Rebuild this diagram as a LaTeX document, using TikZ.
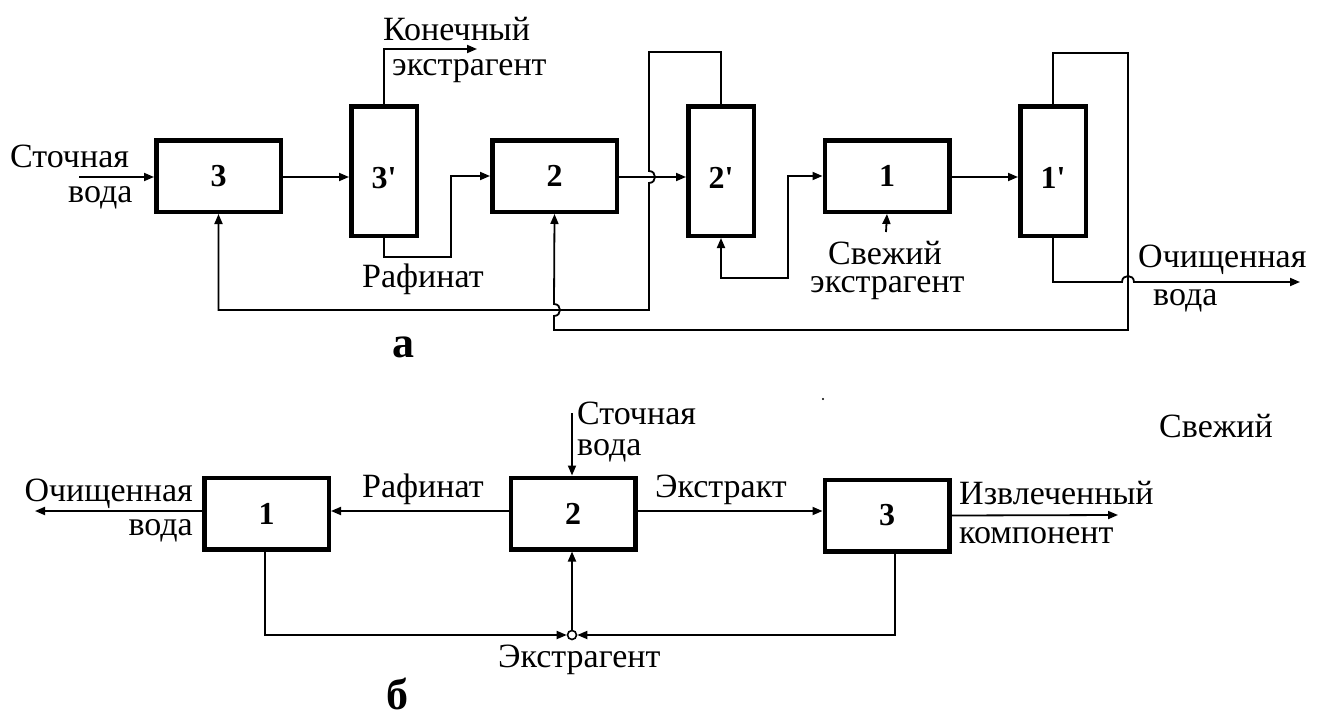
\documentclass[tikz,border=0pt]{standalone}
\usepackage{fontspec}
\setmainfont{Liberation Serif}
\usetikzlibrary{arrows.meta}
\begin{document}
\begin{tikzpicture}[x=1pt,y=-1pt,
  box/.style={draw, line width=4.5pt, minimum width=124.5pt, minimum height=71.5pt, inner sep=0pt, font=\fontsize{32}{36}\selectfont\bfseries},
  col/.style={box, minimum width=65.5pt, minimum height=129.5pt, text height=34pt, text depth=0pt},
  lbl/.style={inner sep=0pt, font=\fontsize{34}{38}\selectfont},
  figlbl/.style={inner sep=0pt, anchor=base, font=\fontsize{44}{48}\selectfont\bfseries},
  wire/.style={line width=1.8pt},
  flow/.style={wire, -{Triangle[length=10pt,width=8pt]}},
  bflow/.style={wire, {Triangle[length=10pt,width=8pt]}-{Triangle[length=10pt,width=8pt]}}
]
\useasboundingbox (0,0) rectangle (1317,717);

% ---------- diagram a ----------
\node[box] (b3) at (218.5,176) {3};
\node[col] (b3p) at (384,171) {3\textquotesingle};
\node[box] (b2) at (554.5,176) {2};
\node[col] (b2p) at (721,171) {2\textquotesingle};
\node[box] (b1) at (887,176) {1};
\node[col] (b1p) at (1053,171) {1\textquotesingle};

\node[lbl, anchor=base west] (t1) at (10,167) {Сточная};
\node[lbl, anchor=base west] (t2) at (68,202) {вода};
\node[lbl, anchor=base west] (t3) at (383,41) {Конечный};
\node[lbl, anchor=base west] (t4) at (392,76) {экстрагент};
\node[lbl, anchor=base west] (t5) at (362,287) {Рафинат};
\node[lbl, anchor=base west] (t6) at (828,264) {Свежий};
\node[lbl, anchor=base west] (t7) at (810,292) {экстрагент};
\node[lbl, anchor=base west] (t8) at (1138,267) {Очищенная};
\node[lbl, anchor=base west] (t9) at (1153,305) {вода};
\node[figlbl] (la) at (403,357) {а};

\coordinate (in3) at (79,177);
\coordinate (kon) at (477,49);
\coordinate (raf) at (451,257);
\coordinate (fr) at (886,232);
\coordinate (ow1) at (1300,282);

\draw[flow] (in3) -- (in3 -| b3.west);
\draw[flow] (b3.east |- 0,177) -- (b3p.west |- 0,177);
\draw[flow] (b3p.north) |- (kon);
\draw[flow] (b3p.south) |- (raf) |- (b2.west);
\draw[flow] (b2.east |- 0,177) -- (b2p.west |- 0,177);
\draw[flow] (b1.east |- 0,177) -- (b1p.west |- 0,177);
\draw[flow] (fr) -- (b1.south);
\draw[bflow] (b2p.south) |- (788,278) |- (b1.west);
% loop from 2' to 3
\draw[flow] (b2p.north) |- (649,52) -- (649,171)
   .. controls (657,171) and (657,183) .. (649,183)
   -- (649,310) -| (b3.south);
% loop from 1' to 2
\draw[flow] (b1p.north) |- (1128,53) -- (1128,330) -| (554,316)
   .. controls (562,316) and (562,304) .. (554,304) -- (b2.south);
% purified water out
\draw[flow] (b1p.south) |- (1122,282)
   .. controls (1122,274) and (1134,274) .. (1134,282) -- (ow1);

% ---------- diagram b ----------
\node[box] (c1) at (266.5,513.5) {1};
\node[box] (c2) at (573,513.5) {2};
\node[box] (c3) at (887,515.5) {3};
\node[draw, circle, line width=1.6pt, inner sep=0pt, minimum size=9pt, fill=white] (o) at (572,635) {};

\node[lbl, anchor=base east] (s1) at (193,501) {Очищенная};
\node[lbl, anchor=base east] (s2) at (193,535) {вода};
\node[lbl, anchor=base west] (s3) at (362,497) {Рафинат};
\node[lbl, anchor=base west] (s4) at (577,424) {Сточная};
\node[lbl, anchor=base west] (s5) at (577,455) {вода};
\node[lbl, anchor=base west] (s6) at (655,497) {Экстракт};
\node[lbl, anchor=base west] (s7) at (959,504) {Извлеченный};
\node[lbl, anchor=base west] (s8) at (959,543) {компонент};
\node[lbl, anchor=base west] (s9) at (1159,437) {Свежий};
\node[lbl, anchor=base west] (s10) at (498,667) {Экстрагент};
\node[figlbl] (lb) at (397,709) {б};

\coordinate (ow2) at (35,511);
\coordinate (sw) at (572,413);
\coordinate (ik) at (1118,515);

\draw[flow] (c1.west |- 0,511) -- (ow2);
\draw[flow] (c2.west |- 0,511) -- (c1.east |- 0,511);
\draw[flow] (sw) -- (sw |- c2.north);
\draw[flow] (c2.east |- 0,511) -- (c3.west |- 0,511);
\draw[flow] (c3.east) -- (ik);
\draw[flow] ([xshift=-1.5pt]c1.south) |- (o.west);
\draw[flow] ([xshift=8pt]c3.south) |- (o.east);
\draw[flow] (o.north) -- (o.north |- c2.south);
\fill (823,399) circle (1.2pt);
\end{tikzpicture}
\end{document}
